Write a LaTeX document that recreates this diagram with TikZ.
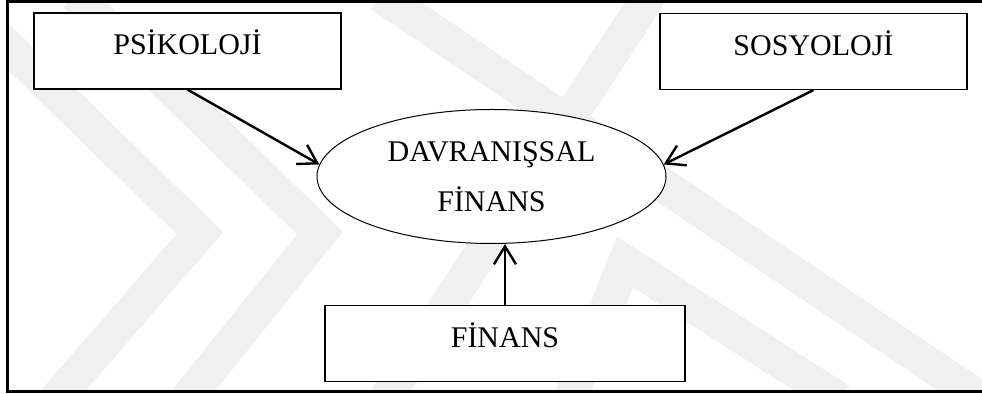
\documentclass[tikz,border=0pt]{standalone}
\usepackage{fontspec}
\setmainfont{Liberation Serif}
\usetikzlibrary{shapes.geometric, arrows.meta}

\newcommand{\yazi}{\fontsize{15}{25}\selectfont}

\begin{document}
\begin{tikzpicture}[x=0.5pt, y=-0.5pt, >={Straight Barb[length=9pt, width=11pt]},
    kutu/.style={draw, fill=white, line width=0.6pt, minimum width=153.5pt,
      minimum height=38pt, text height=10pt, text depth=6pt, font=\yazi},
    elips/.style={draw, ellipse, fill=white, line width=0.5pt, inner sep=0pt,
      minimum width=174.5pt, minimum height=67pt, align=center, font=\yazi},
    ok/.style={->, line width=1.2pt},
    damga/.style={line width=17pt, black!6}]
  \useasboundingbox (0,0) rectangle (982,394);

  % Watermark
  \begin{scope}
    \clip (7.5,1.5) rectangle (982,391.5);
    \draw[damga] (-45,-5) -- (200,233) -- (55,400);
    \draw[damga] (75,-5) -- (320,233) -- (186,400);
    \draw[damga] (650,-5) -- (385,400);
    \draw[damga] (380,-5) -- (990,405);
    \draw[damga] (570,400) -- (625,262) -- (840,400);
  \end{scope}

  % Frame
  \draw[line width=1.5pt] (982,1.5) -- (7.5,1.5) -- (7.5,391.5) -- (982,391.5);

  % Boxes
  \node[kutu] (psikoloji) at (187.5,51) {PSİKOLOJİ};
  \node[kutu] (sosyoloji) at (813.5,51.5) {SOSYOLOJİ};
  \node[kutu, minimum width=180pt] (finans) at (505,343.5) {FİNANS};
  \node[elips] (davranis) at (491.5,176.5) {DAVRANIŞSAL\\FİNANS};

  % Arrows
  \draw[ok] (psikoloji.south) -- (davranis.176);
  \draw[ok] (sosyoloji.south) -- (davranis.4);
  \draw[ok] (finans.north) -- (finans.north |- davranis.south);
\end{tikzpicture}
\end{document}
